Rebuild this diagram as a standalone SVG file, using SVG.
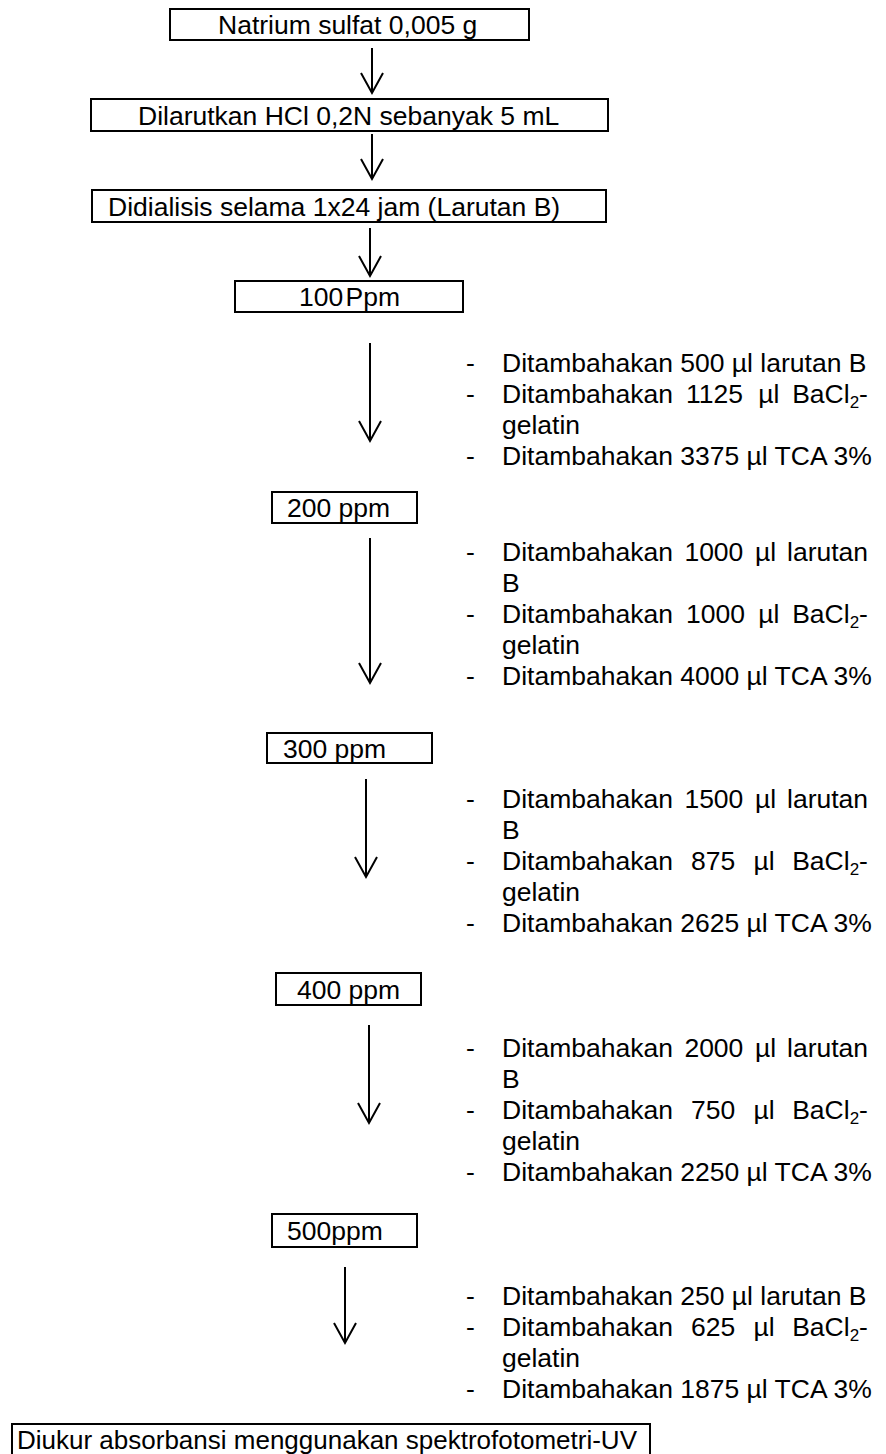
<svg xmlns="http://www.w3.org/2000/svg" width="886" height="1454" viewBox="0 0 886 1454">
<defs>
<style>
.box{fill:#fff;stroke:#000;stroke-width:2}
.t{font-family:"Liberation Sans",Arial,sans-serif;font-size:26.5px;fill:#000}
.sub{font-size:17px}
.con{stroke:#000;stroke-width:2;fill:none}
</style>
<marker id="ah" markerUnits="userSpaceOnUse" markerWidth="30" markerHeight="30" viewBox="-24 -15 30 30" refX="0" refY="0" orient="auto" overflow="visible">
<path d="M-20,-11 L0,0 L-20,11" fill="none" stroke="#000" stroke-width="2"/>
</marker>
</defs>
<rect width="886" height="1454" fill="#fff"/>
<g id="connectors">
<line class="con" x1="372" y1="48" x2="372" y2="93" marker-end="url(#ah)"/>
<line class="con" x1="372" y1="134" x2="372" y2="179" marker-end="url(#ah)"/>
<line class="con" x1="370" y1="228" x2="370" y2="276" marker-end="url(#ah)"/>
<line class="con" x1="370" y1="343" x2="370" y2="441" marker-end="url(#ah)"/>
<line class="con" x1="370" y1="538" x2="370" y2="683" marker-end="url(#ah)"/>
<line class="con" x1="366" y1="779" x2="366" y2="877" marker-end="url(#ah)"/>
<line class="con" x1="369" y1="1025" x2="369" y2="1123" marker-end="url(#ah)"/>
<line class="con" x1="345" y1="1267" x2="345" y2="1343" marker-end="url(#ah)"/>
</g>
<g id="n1"><rect class="box" x="170" y="9" width="359" height="31"/><text class="t" x="218" y="34">Natrium sulfat 0,005 g</text></g>
<g id="n2"><rect class="box" x="91" y="99" width="517" height="32"/><text class="t" x="138" y="124.5">Dilarutkan HCl 0,2N sebanyak 5 mL</text></g>
<g id="n3"><rect class="box" x="92" y="190" width="514" height="32"/><text class="t" x="108" y="215.5">Didialisis selama 1x24 jam (Larutan B)</text></g>
<g id="n4"><rect class="box" x="235" y="281" width="228" height="31"/><text class="t" x="299" y="306" word-spacing="-5">100 Ppm</text></g>
<g id="step1">
<text class="t" y="371.5"><tspan x="466">-</tspan><tspan x="502">Ditambahakan 500 µl larutan B</tspan></text>
<text class="t" y="402.5"><tspan x="466">-</tspan><tspan x="502">Ditambahakan</tspan><tspan x="686.1">1125</tspan><tspan x="758.3">µl</tspan><tspan x="792.2">BaCl<tspan class="sub" dy="5">2</tspan><tspan dy="-5">-</tspan></tspan></text>
<text class="t" x="502" y="433.5">gelatin</text>
<text class="t" y="464.5"><tspan x="466">-</tspan><tspan x="502">Ditambahakan 3375 µl TCA 3%</tspan></text>
</g>
<g id="n5"><rect class="box" x="272" y="492" width="145" height="31"/><text class="t" x="287" y="517">200 ppm</text></g>
<g id="step2">
<text class="t" y="560.5"><tspan x="466">-</tspan><tspan x="502">Ditambahakan</tspan><tspan x="684.4">1000</tspan><tspan x="754.9">µl</tspan><tspan x="787">larutan</tspan></text>
<text class="t" x="502" y="591.5">B</text>
<text class="t" y="622.5"><tspan x="466">-</tspan><tspan x="502">Ditambahakan</tspan><tspan x="686.1">1000</tspan><tspan x="758.3">µl</tspan><tspan x="792.2">BaCl<tspan class="sub" dy="5">2</tspan><tspan dy="-5">-</tspan></tspan></text>
<text class="t" x="502" y="653.5">gelatin</text>
<text class="t" y="684.5"><tspan x="466">-</tspan><tspan x="502">Ditambahakan 4000 µl TCA 3%</tspan></text>
</g>
<g id="n6"><rect class="box" x="267" y="733" width="165" height="30"/><text class="t" x="283" y="757.5">300 ppm</text></g>
<g id="step3">
<text class="t" y="807.5"><tspan x="466">-</tspan><tspan x="502">Ditambahakan</tspan><tspan x="684.4">1500</tspan><tspan x="754.9">µl</tspan><tspan x="787">larutan</tspan></text>
<text class="t" x="502" y="838.5">B</text>
<text class="t" y="869.5"><tspan x="466">-</tspan><tspan x="502">Ditambahakan</tspan><tspan x="691">875</tspan><tspan x="753.4">µl</tspan><tspan x="792.2">BaCl<tspan class="sub" dy="5">2</tspan><tspan dy="-5">-</tspan></tspan></text>
<text class="t" x="502" y="900.5">gelatin</text>
<text class="t" y="931.5"><tspan x="466">-</tspan><tspan x="502">Ditambahakan 2625 µl TCA 3%</tspan></text>
</g>
<g id="n7"><rect class="box" x="276" y="973" width="145" height="32"/><text class="t" x="297" y="998.5">400 ppm</text></g>
<g id="step4">
<text class="t" y="1056.5"><tspan x="466">-</tspan><tspan x="502">Ditambahakan</tspan><tspan x="684.4">2000</tspan><tspan x="754.9">µl</tspan><tspan x="787">larutan</tspan></text>
<text class="t" x="502" y="1087.5">B</text>
<text class="t" y="1118.5"><tspan x="466">-</tspan><tspan x="502">Ditambahakan</tspan><tspan x="691">750</tspan><tspan x="753.4">µl</tspan><tspan x="792.2">BaCl<tspan class="sub" dy="5">2</tspan><tspan dy="-5">-</tspan></tspan></text>
<text class="t" x="502" y="1149.5">gelatin</text>
<text class="t" y="1180.5"><tspan x="466">-</tspan><tspan x="502">Ditambahakan 2250 µl TCA 3%</tspan></text>
</g>
<g id="n8"><rect class="box" x="272" y="1214" width="145" height="33"/><text class="t" x="287" y="1240">500ppm</text></g>
<g id="step5">
<text class="t" y="1304.5"><tspan x="466">-</tspan><tspan x="502">Ditambahakan 250 µl larutan B</tspan></text>
<text class="t" y="1335.5"><tspan x="466">-</tspan><tspan x="502">Ditambahakan</tspan><tspan x="691">625</tspan><tspan x="753.4">µl</tspan><tspan x="792.2">BaCl<tspan class="sub" dy="5">2</tspan><tspan dy="-5">-</tspan></tspan></text>
<text class="t" x="502" y="1366.5">gelatin</text>
<text class="t" y="1397.5"><tspan x="466">-</tspan><tspan x="502">Ditambahakan 1875 µl TCA 3%</tspan></text>
</g>
<g id="n9"><rect class="box" x="12" y="1424" width="638" height="45"/><text class="t" x="17" y="1448.5" style="font-size:26px">Diukur absorbansi menggunakan spektrofotometri-UV</text></g>
</svg>
